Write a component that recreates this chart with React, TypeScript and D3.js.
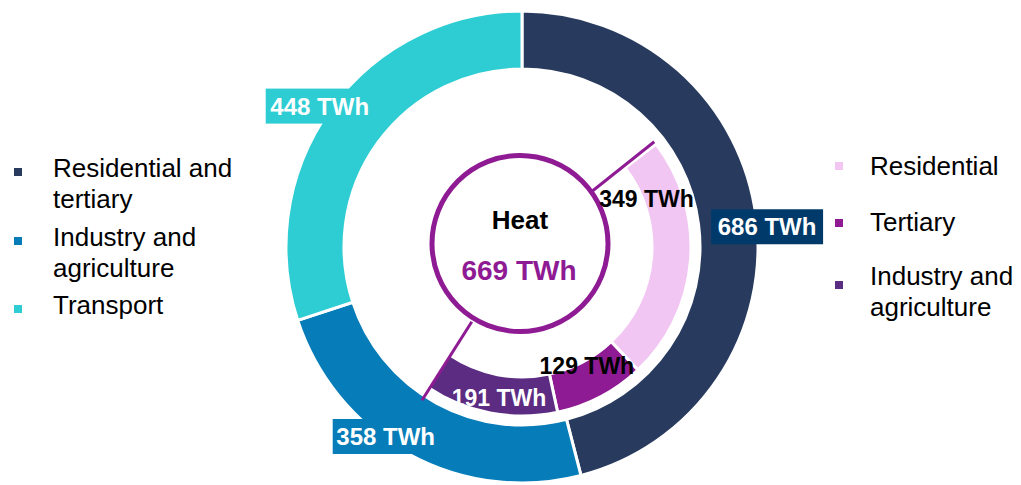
import React from 'react';
import * as d3 from 'd3';

// outer ring: final energy by sector (TWh)
const sectors = ['Residential and tertiary', 'Industry and agriculture', 'Transport'];
const sectorValues = [686, 358, 448];
const sectorColors = ['#283B5E', '#067DB8', '#2ECDD3'];
const sectorLabelFill = ['#003A6A', '#067DB8', '#2ECDD3'];

// inner ring: heat share (TWh)
const heatParts = ['Residential', 'Tertiary', 'Industry and agriculture'];
const heatValues = [349, 129, 191];
const heatColors = ['#F2C6F2', '#8E1B93', '#5B2C82'];
const heatTextColors = ['#000000', '#000000', '#FFFFFF'];
const heatTotal = 669;

const W = 1021;
const H = 485;
const cx = 522;
const cy = 247;
const deg = Math.PI / 180;

const polar = (a: number, r: number) => [cx + r * Math.sin(a), cy - r * Math.cos(a)];

export default function App() {
    const total = d3.sum(sectorValues);
    const angle = d3.scaleLinear().domain([0, total]).range([0, 2 * Math.PI]);

    //outer arcs start at 12 o'clock
    let cum = 0;
    const outer = sectorValues.map((v, i) => {
        const s = angle(cum);
        cum += v;
        return { i, v, startAngle: s, endAngle: angle(cum) };
    });

    //inner arcs start partway round, same scale as outer
    const innerStart = 52.5 * deg;
    cum = 0;
    const inner = heatValues.map((v, i) => {
        const s = innerStart + angle(cum);
        cum += v;
        return { i, v, startAngle: s, endAngle: innerStart + angle(cum) };
    });
    const innerEnd = inner[inner.length - 1].endAngle;

    const outerArc = d3.arc<any>().innerRadius(178).outerRadius(236);
    const innerArc = d3.arc<any>().innerRadius(130).outerRadius(169);

    // label nudges from the arc mid-angle point
    const outerTweak = [[7, 10], [-21, -21], [-8, 0]];
    const outerBoxW = [112, 106, 108];
    const innerTweak = [[-23, -60], [-4, -12], [5, 6]];

    const font = 'Liberation Sans, Arial, sans-serif';

    const l1a = polar(innerStart - 1 * deg, 90);
    const l1b = polar(innerStart - 1 * deg, 169);
    const l2a = polar(innerEnd, 90);
    const l2b = polar(innerEnd - 0.8 * deg, 183);

    const leftRows: [number, string[]][] = [[168, ['Residential and', 'tertiary']], [237, ['Industry and', 'agriculture']], [305, ['Transport']]];
    // [square y, first baseline, lines]
    const rightRows: [number, number, string[]][] = [[162, 175, ['Residential']], [219, 231, ['Tertiary']], [281, 285, ['Industry and', 'agriculture']]];

    return (
        <div style={{ position: 'absolute', left: 0, top: 0 }}>
            <svg width={W} height={H} style={{ display: 'block', fontFamily: font }}>
                <rect width={W} height={H} fill="#fff" />

                {outer.map(d => (
                    <path key={'o' + d.i} d={outerArc(d) as string}
                        transform={`translate(${cx},${cy})`}
                        fill={sectorColors[d.i]} stroke="#fff" strokeWidth={3} />
                ))}

                {inner.map(d => (
                    <path key={'n' + d.i} d={innerArc(d) as string}
                        transform={`translate(${cx},${cy})`}
                        fill={heatColors[d.i]} stroke="#fff" strokeWidth={3} />
                ))}

                {/* callout lines to the heat circle */}
                <line x1={l1a[0]} y1={l1a[1]} x2={l1b[0]} y2={l1b[1]} stroke="#8E1B93" strokeWidth={3} />
                <line x1={l2a[0]} y1={l2a[1]} x2={l2b[0]} y2={l2b[1]} stroke="#8E1B93" strokeWidth={3} />

                <circle cx={520} cy={243.5} r={88} fill="#fff" stroke="#8E1B93" strokeWidth={5} />
                <text x={520} y={229} textAnchor="middle" fontSize={26} fontWeight="bold" fill="#000">Heat</text>
                <text x={519} y={280} textAnchor="middle" fontSize={28} fontWeight="bold" fill="#8E1B93">{heatTotal} TWh</text>

                {/* outer labels in boxes */}
                {outer.map(d => {
                    const m = (d.startAngle + d.endAngle) / 2;
                    const p = polar(m, 240);
                    const x = p[0] + outerTweak[d.i][0];
                    const y = p[1] + outerTweak[d.i][1];
                    const bw = outerBoxW[d.i];
                    return (
                        <g key={'ol' + d.i}>
                            <rect x={x - bw / 2} y={y - 17.5} width={bw} height={35} fill={sectorLabelFill[d.i]} />
                            <text x={x} y={y + 8.5} textAnchor="middle" fontSize={24} fontWeight="bold" fill="#fff">{d.v} TWh</text>
                        </g>
                    );
                })}

                {inner.map(d => {
                    const m = (d.startAngle + d.endAngle) / 2;
                    const p = polar(m, 148);
                    const x = p[0] + innerTweak[d.i][0];
                    const y = p[1] + innerTweak[d.i][1];
                    return (
                        <text key={'il' + d.i} x={x} y={y + 8} textAnchor="middle" fontSize={23}
                            fontWeight="bold" fill={heatTextColors[d.i]}>{d.v} TWh</text>
                    );
                })}

                {/* left legend */}
                {leftRows.map((row, i) => (
                    <g key={'lg' + i}>
                        <rect x={14} y={row[0]} width={8} height={8} fill={sectorColors[i]} />
                        {row[1].map((t, j) => (
                            <text key={j} x={53} y={row[0] + 9 + j * 31} fontSize={26} fill="#000">{t}</text>
                        ))}
                    </g>
                ))}

                {/* right legend */}
                {rightRows.map((row, i) => (
                    <g key={'rg' + i}>
                        <rect x={835} y={row[0]} width={8} height={8} fill={heatColors[i]} />
                        {row[2].map((t, j) => (
                            <text key={j} x={870} y={row[1] + j * 31} fontSize={26} fill="#000">{t}</text>
                        ))}
                    </g>
                ))}
            </svg>
        </div>
    );
}
